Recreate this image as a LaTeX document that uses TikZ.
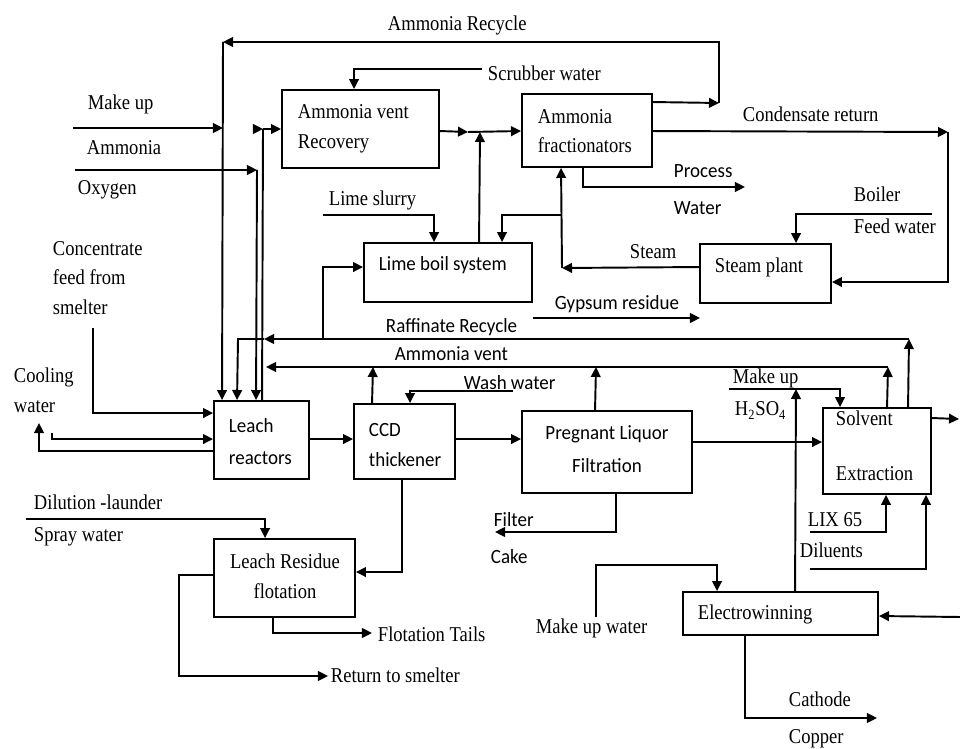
\documentclass[tikz,border=0pt]{standalone}
\usepackage{fontspec}
\setmainfont[FakeStretch=0.88]{Liberation Serif}
\newfontfamily\sansf[FakeStretch=0.94]{Carlito}
\usetikzlibrary{arrows.meta,calc,fit}
\begin{document}
\begin{tikzpicture}[x=0.02cm,y=-0.02cm,line width=1.1pt,
 box/.style={draw,inner sep=0pt,line width=1.1pt},
 arr/.style={-{Triangle[length=5.7pt,width=5.5pt]}},
 lab/.style={anchor=base west,inner sep=0pt,font=\fontsize{12}{14}\selectfont},
 labc/.style={anchor=base,inner sep=0pt,font=\fontsize{12}{14}\selectfont},
 slab/.style={anchor=base west,inner sep=0pt,font=\sansf\fontsize{11.5}{13}\selectfont},
 slabc/.style={anchor=base,inner sep=0pt,font=\sansf\fontsize{11.5}{13}\selectfont}]
\path[use as bounding box,fill=white] (0,0) rectangle (960,749);

% boxes
\node[box,fit={(282,90) (439,168)}] (avr) {};
\node[box,fit={(522,94) (652,167)}] (af) {};
\node[box,fit={(364,243) (532,302)}] (lbs) {};
\node[box,fit={(700,244) (831,303)}] (sp) {};
\node[box,fit={(214,401) (309,479)}] (lr) {};
\node[box,fit={(354,404) (455,479)}] (ccd) {};
\node[box,fit={(522,411) (692,493)}] (plf) {};
\node[box,fit={(823,408) (931,494)}] (sx) {};
\node[box,fit={(214,539) (355,617)}] (lrf) {};
\node[box,fit={(683,592) (878,635)}] (ew) {};

% box texts
\node[lab] (t1) at (297,119) {Ammonia vent};
\node[lab] (t2) at (297,149) {Recovery};
\node[lab] (t3) at (537,124) {Ammonia};
\node[lab] (t4) at (537,153) {fractionators};
\node[slab] (t5) at (378,271) {Lime boil system};
\node[lab] (t6) at (714,273) {Steam plant};
\node[slab] (t7) at (228,433) {Leach};
\node[slab] (t8) at (228,465) {reactors};
\node[slab] (t9) at (368,437) {CCD};
\node[slab] (t10) at (368,467) {thickener};
\node[slabc] (t11) at (607,440) {Pregnant Liquor};
\node[slabc] (t12) at (607,473) {Filtration};
\node[lab] (t13) at (835,426) {Solvent};
\node[lab] (t14) at (835,481) {Extraction};
\node[labc] (t15) at (285,568) {Leach Residue};
\node[labc] (t16) at (285,598) {flotation};
\node[lab] (t17) at (697,619) {Electrowinning};

% free labels
\node[lab] (l1) at (387,31) {Ammonia Recycle};
\node[lab] (l2) at (87,110) {Make up};
\node[lab] (l3) at (86,155) {Ammonia};
\node[lab] (l4) at (77,195) {Oxygen};
\node[lab] (l5) at (487,81) {Scrubber water};
\node[lab] (l6) at (742,122) {Condensate return};
\node[slab] (l7) at (673,178) {Process};
\node[slab] (l8) at (673,215) {Water};
\node[lab] (l9) at (853,202) {Boiler};
\node[lab] (l10) at (853,234) {Feed water};
\node[lab] (l11) at (629,259) {Steam};
\node[lab] (l12) at (328,206) {Lime slurry};
\node[slab] (l13) at (554,310) {Gypsum residue};
\node[slab] (l14) at (385,333) {Raffinate Recycle};
\node[slab] (l15) at (394,361) {Ammonia vent};
\node[slab] (l16) at (463,390) {Wash water};
\node[lab] (l17) at (732,384) {Make up};
\node[lab] (l18) at (734,416) {H\textsubscript{2}SO\textsubscript{4}};
\node[lab] (l19) at (52,256) {Concentrate};
\node[lab] (l20) at (52,285) {feed from};
\node[lab] (l21) at (52,315) {smelter};
\node[lab] (l22) at (13,383) {Cooling};
\node[lab] (l23) at (13,413) {water};
\node[lab] (l24) at (33,510) {Dilution -launder};
\node[lab] (l25) at (33,541) {Spray water};
\node[lab] (l26) at (377,641) {Flotation Tails};
\node[lab] (l27) at (330,682) {Return to smelter};
\node[slab] (l28) at (493,526) {Filter};
\node[slab] (l29) at (490,563) {Cake};
\node[lab] (l30) at (535,633) {Make up water};
\node[lab] (l31) at (788,706) {Cathode};
\node[lab] (l32) at (788,743) {Copper};
\node[lab] (l33) at (807,526) {LIX 65};
\node[lab] (l34) at (799,558) {Diluents};

% coordinates (free ends and junctions)
\coordinate (rA) at (719,103);
\coordinate (rB) at (719,42);
\coordinate (rC) at (223,42);
\coordinate (mu) at (73,128);
\coordinate (ox) at (75,170);
\coordinate (oxc) at (257,170);
\coordinate (vc) at (263,129);
\coordinate (ja) at (468,132);
\coordinate (jn) at (480,132);
\coordinate (sw) at (482,69);
\coordinate (cr) at (948,132);
\coordinate (pw) at (745,187);
\coordinate (bf) at (932,214);
\coordinate (st) at (562,268);
\coordinate (st2) at (562,215);
\coordinate (ls) at (323,215);
\coordinate (rl) at (323,339);
\coordinate (g1) at (533,318);
\coordinate (g2) at (700,318);
\coordinate (rr1) at (909,339);
\coordinate (rr2) at (264,339);
\coordinate (rr3) at (238,339);
\coordinate (av1) at (888,367);
\coordinate (av2) at (266,367);
\coordinate (av3) at (596,367);
\coordinate (av4) at (373,367);
\coordinate (ww) at (513,391);
\coordinate (so) at (959,419);
\coordinate (mh) at (729,389);
\coordinate (ewu) at (796,389);
\coordinate (lix) at (810,532);
\coordinate (dil) at (810,569);
\coordinate (ewi) at (960,617);
\coordinate (mw) at (596,617);
\coordinate (cc) at (877,718);
\coordinate (fc) at (495,532);
\coordinate (dl) at (26,519);
\coordinate (ft) at (372,633);
\coordinate (rs) at (328,676);
\coordinate (cf) at (93,328);
\coordinate (cw1) at (52,433);
\coordinate (cw2) at (39,423);

% connectors
\draw[arr] ($(af.north east)+(0,9)$) -- (rA);
\draw[arr] (rA) -- (rB) -- (rC);
\draw[arr] (rC) -- ($(lr.north west)+(9,0)$);
\draw[arr] (mu) -- (mu -| rC);
\draw[arr] (ox) -- (oxc);
\draw[arr] (oxc) -- ($(lr.north west)+(43,0)$);
\draw ($(lr.north west)+(49,0)$) -- (vc);
\draw[arr] ($(vc)+(-9,0)$) -- (vc);
\draw[arr] (vc) -- (vc -| avr.west);
\draw[arr] ($(avr.north east)+(0,42)$) -- (ja);
\draw[arr] (ja) -- ($(af.north west)+(0,38)$);
\draw[arr] ($(lbs.north west)+(116,0)$) -- (jn);
\draw[arr] (sw) -| ($(avr.north west)+(73,0)$);
\draw[arr] ($(af.north east)+(0,38)$) -- (cr);
\draw[arr] (cr) |- ($(sp.north east)+(0,39)$);
\draw[arr] ($(af.south west)+(62,0)$) |- (pw);
\draw[arr] (bf) -| ($(sp.north west)+(97,0)$);
\draw[arr] ($(sp.north west)+(0,24)$) -- (st);
\draw[arr] (st) -- ($(af.south west)+(40,0)$);
\draw[arr] (st2) -| ($(lbs.north west)+(139,0)$);
\draw[arr] (ls) -| ($(lbs.north west)+(71,0)$);
\draw[arr] (rl) |- ($(lbs.north west)+(0,25)$);
\draw[arr] (g1) -- (g2);
\draw[arr] ($(sx.north west)+(86,0)$) -- (rr1);
\draw[arr] (rr1) -- (rr2);
\draw[arr] (rr2) -- (rr3) -- ($(lr.north west)+(24,0)$);
\draw[arr] ($(sx.north west)+(65,0)$) -- (av1);
\draw[arr] (av1) -- (av2);
\draw[arr] ($(plf.north west)+(74,0)$) -- (av3);
\draw[arr] ($(ccd.north west)+(19,0)$) -- (av4);
\draw[arr] (ww) -| ($(ccd.north west)+(57,0)$);
\draw[arr] ($(lr.north east)+(0,39)$) -- ($(ccd.north west)+(0,36)$);
\draw[arr] ($(ccd.north east)+(0,36)$) -- ($(plf.north west)+(0,29)$);
\draw[arr] ($(plf.north east)+(0,32)$) -- ($(sx.north west)+(0,35)$);
\draw[arr] ($(sx.north east)+(0,11)$) -- (so);
\draw[arr] (mh) -| ($(sx.north west)+(18,0)$);
\draw[arr] ($(ew.north west)+(113,0)$) -- (ewu);
\draw[arr] (lix) -| ($(sx.south west)+(64,0)$);
\draw[arr] (dil) -| ($(sx.south west)+(104,0)$);
\draw[arr] (ewi) -- ($(ew.north east)+(0,25)$);
\draw[arr] (mw) |- ($(ew.north west)+(35,-26)$) -- ($(ew.north west)+(35,0)$);
\draw[arr] ($(ew.south west)+(63,0)$) |- (cc);
\draw[arr] ($(plf.south west)+(95,0)$) |- (fc);
\draw[arr] ($(ccd.south west)+(49,0)$) |- ($(lrf.north east)+(0,34)$);
\draw[arr] (dl) -| ($(lrf.north west)+(52,0)$);
\draw[arr] ($(lrf.south west)+(60,0)$) |- (ft);
\draw[arr] ($(lrf.north west)+(0,37)$) -- ++(-34,0) |- (rs);
\draw[arr] (cf) |- ($(lr.north west)+(0,13)$);
\draw[arr] (cw1) |- ($(lr.north west)+(0,39)$);
\draw[arr] ($(lr.north west)+(0,51)$) -| (cw2);
\end{tikzpicture}
\end{document}
